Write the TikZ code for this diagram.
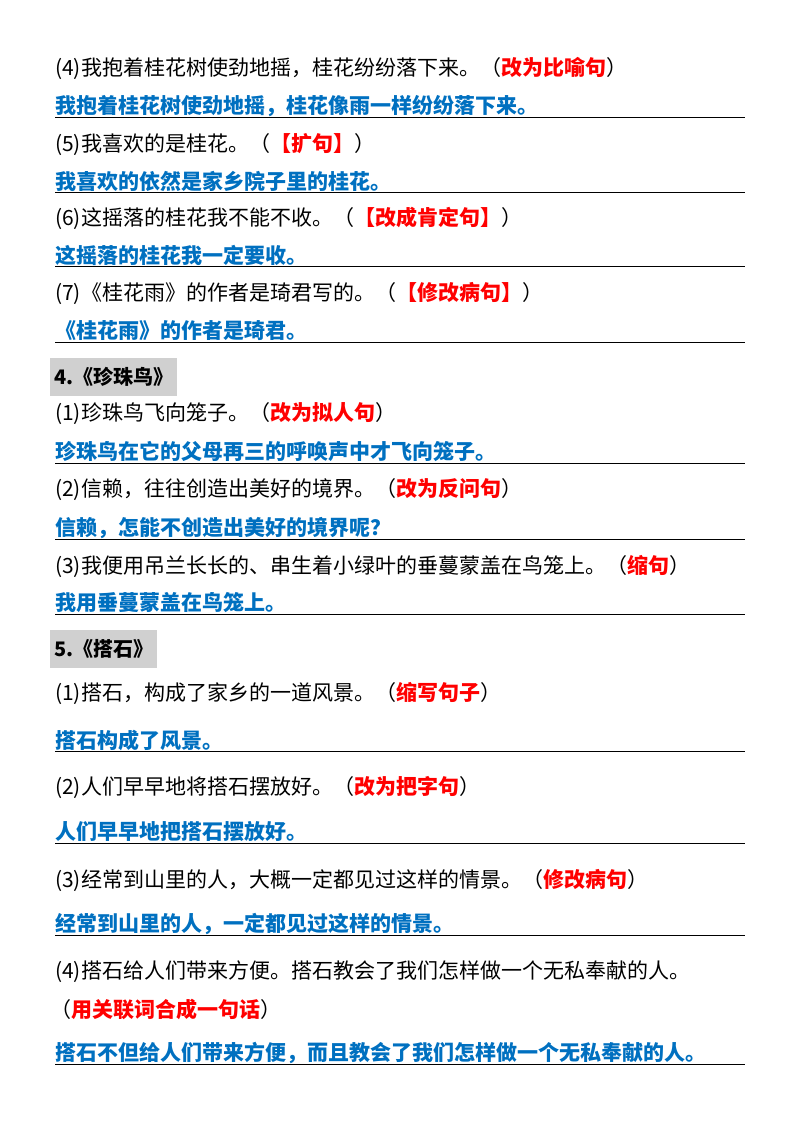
\documentclass[tikz,border=0pt]{standalone}
\usepackage{fontspec}
\setmainfont{Noto Sans CJK SC}
\definecolor{ansblue}{RGB}{0,112,192}
\definecolor{hdgray}{RGB}{208,208,208}
\begin{document}
\begin{tikzpicture}[x=1pt,y=-1pt,
  q/.style={anchor=west,inner sep=0pt,font=\fontsize{21}{24}\selectfont},
  ans/.style={anchor=west,inner sep=0pt,text=ansblue,font=\fontsize{21}{24}\selectfont\bfseries},
  rule/.style={line width=1pt},
  hd/.style={anchor=west,fill=hdgray,inner xsep=4pt,minimum height=38pt,font=\fontsize{20}{22}\selectfont\bfseries}]
\useasboundingbox (0,0) rectangle (800,1132);
\newcommand{\rd}[1]{\textcolor{red}{\bfseries #1}}
\newcommand{\ansrow}[3]{\node[ans] (#1) at (55,#2) {#3};
  \coordinate (#1l) at (55,#2+11); \coordinate (#1r) at (745,#2+11);
  \draw[rule] (#1l) -- (#1r);}
\node[q] (q4) at (55,68) {(4)我抱着桂花树使劲地摇，桂花纷纷落下来。（\rd{改为比喻句}）};
\ansrow{a4}{106}{我抱着桂花树使劲地摇，桂花像雨一样纷纷落下来。}
\node[q] (q5) at (55,145) {(5)我喜欢的是桂花。（\rd{【扩句】}）};
\ansrow{a5}{181}{我喜欢的依然是家乡院子里的桂花。}
\node[q] (q6) at (55,218) {(6)这摇落的桂花我不能不收。（\rd{【改成肯定句】}）};
\ansrow{a6}{255}{这摇落的桂花我一定要收。}
\node[q] (q7) at (55,293) {(7)《桂花雨》的作者是琦君写的。（\rd{【修改病句】}）};
\ansrow{a7}{331}{《桂花雨》的作者是琦君。}
\node[hd] (h4) at (50,377) {4.《珍珠鸟》};
\node[q] (p1) at (55,414) {(1)珍珠鸟飞向笼子。（\rd{改为拟人句}）};
\ansrow{b1}{452}{珍珠鸟在它的父母再三的呼唤声中才飞向笼子。}
\node[q] (p2) at (55,490) {(2)信赖，往往创造出美好的境界。（\rd{改为反问句}）};
\ansrow{b2}{528}{信赖，怎能不创造出美好的境界呢？}
\node[q] (p3) at (55,566) {(3)我便用吊兰长长的、串生着小绿叶的垂蔓蒙盖在鸟笼上。（\rd{缩句}）};
\ansrow{b3}{603}{我用垂蔓蒙盖在鸟笼上。}
\node[hd] (h5) at (50,649) {5.《搭石》};
\node[q] (s1) at (55,693) {(1)搭石，构成了家乡的一道风景。（\rd{缩写句子}）};
\ansrow{c1}{740}{搭石构成了风景。}
\node[q] (s2) at (55,787) {(2)人们早早地将搭石摆放好。（\rd{改为把字句}）};
\ansrow{c2}{832}{人们早早地把搭石摆放好。}
\node[q] (s3) at (55,880) {(3)经常到山里的人，大概一定都见过这样的情景。（\rd{修改病句}）};
\ansrow{c3}{924}{经常到山里的人，一定都见过这样的情景。}
\node[q] (s4) at (55,972) {(4)搭石给人们带来方便。搭石教会了我们怎样做一个无私奉献的人。};
\node[q] (s4b) at (50,1009) {（\rd{用关联词合成一句话}）};
\ansrow{c4}{1053}{搭石不但给人们带来方便，而且教会了我们怎样做一个无私奉献的人。}
\end{tikzpicture}
\end{document}
